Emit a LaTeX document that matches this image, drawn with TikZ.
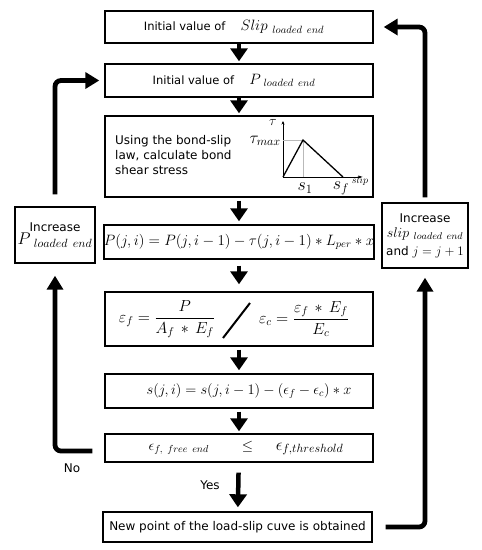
\RequirePackage{fix-cm}
\documentclass[tikz,border=0pt]{standalone}
\usepackage{amsmath}
\usepackage{fontspec}
\setmainfont{DejaVu Sans}
\usetikzlibrary{arrows.meta,positioning}
\newcommand{\fsz}[1]{\fontsize{#1}{#1}\selectfont}

\begin{document}
\begin{tikzpicture}[x=1pt,y=-1pt,
  box/.style={draw,line width=1.4pt,inner sep=0pt,minimum width=268pt,
              align=center,font=\fsz{12}},
  side/.style={draw,line width=1.4pt,inner sep=0pt,align=center,font=\fsz{12}},
  arr/.style={-{Triangle[width=17pt,length=13pt]},line width=4.5pt,
              shorten <=3pt,shorten >=3pt},
  loop/.style={-{Triangle[width=16pt,length=14pt]},line width=4.8pt,
               rounded corners=6pt},
  axis/.style={-{Stealth[length=3.5pt,width=3pt]},line width=0.8pt}]
\useasboundingbox (0,0) rectangle (482,550);

% main column
\node[box,minimum height=32pt,font=\fsz{11.5}] (init_s) at (239,27)
  {\hspace*{-10pt}Initial value of \quad{\fsz{15}$Slip_{\ loaded\ end}$}};
\node[box,minimum height=33pt,font=\fsz{11.5}] (init_p) at (239,80.5)
  {\hspace*{-10pt}Initial value of \quad{\fsz{15}$P_{\ loaded\ end}$}};
\node[box,minimum height=81pt] (bond) at (239,156.5) {};
\node[align=left,anchor=west,inner sep=0pt,font=\fsz{12}] (bondtxt) at (115,155)
  {Using the bond-slip\\[3pt]law, calculate bond\\[3pt]shear stress};
\node[box,minimum height=34pt,font=\fsz{15}] (force) at (239,242)
  {$P(j,i)=P(j,i-1)-\tau(j,i-1)*L_{per}*x$};
\node[box,minimum height=54pt] (strain) at (239,319) {};
\node[inner sep=0pt,font=\fsz{16}] (epsf) at (167,319)
  {$\varepsilon_f=\dfrac{P}{A_f\,*\,E_f}$};
\node[inner sep=0pt,font=\fsz{16}] (epsc) at (304,319)
  {$\varepsilon_c=\dfrac{\varepsilon_f\,*\,E_f}{E_c}$};
\node[box,minimum height=34pt,font=\fsz{14.5}] (slip) at (239,391)
  {\hspace*{20pt}$s(j,i)=s(j,i-1)-(\epsilon_f-\epsilon_c)*x$};
\node[box,minimum height=28pt,font=\fsz{14.5}] (check) at (239,448)
  {\hspace*{14pt}$\epsilon_{f,\ free\ end}\qquad\leq\quad\;
   \mbox{\fsz{17}$\epsilon_{f,threshold}$}$};
\node[box,minimum width=269pt,minimum height=30pt] (result) at (237.5,527)
  {New point of the load-slip cuve is obtained};

% side boxes
\node[side,minimum width=80pt,minimum height=56pt] (incp) at (55,235)
  {Increase\\[1pt]{\fsz{17}$P_{\ loaded\ end}$}};
\node[side,minimum width=86pt,minimum height=65pt] (incs) at (425,235.5)
  {Increase\\[3pt]{\fsz{14}$slip_{\ loaded\ end}$}\\[6pt]and {\fsz{13}$j=j+1$}};

% bond-slip law sketch
\draw[axis] (283,177) -- (283,121);
\draw[axis] (283,177) -- (362,177);
\draw[gray!55,line width=0.6pt] (283,140) -- (303,140) -- (303,177);
\draw[line width=1.3pt] (283,177) -- (303,140) -- (343,177);
\node[inner sep=0pt,font=\fsz{14}] (tau) at (273,122) {$\tau$};
\node[inner sep=0pt,anchor=east,font=\fsz{17}] (taumax) at (281,141) {$\tau_{max}$};
\node[inner sep=0pt,font=\fsz{18}] (s1) at (305,188) {$s_1$};
\node[inner sep=0pt,font=\fsz{18}] (sf) at (341,188) {$s_f$};
\node[inner sep=0pt,font=\fsz{10}] (slipax) at (360,181) {$slip$};

% strain separator
\draw[line width=2pt] (223,338) -- (250,303);

% flow arrows
\draw[arr,shorten <=0pt,shorten >=2pt] (init_s) -- (init_p);
\draw[arr,shorten <=0pt,shorten >=2pt] (init_p) -- (bond);
\draw[arr] (bond) -- (force);
\draw[arr,shorten <=6pt,shorten >=7pt] (force) -- (strain);
\draw[arr] (strain) -- (slip);
\draw[arr,shorten >=2pt] (slip) -- (check);
\draw[arr,shorten <=10pt,shorten >=4pt] (check) -- (result);
\node[font=\fsz{12}] (yes) at (210,485) {Yes};

% loops back
\draw[loop,shorten <=12pt,shorten >=12pt] ([yshift=-3pt]check.west) -| (incp.south);
\draw[loop,shorten <=12pt,shorten >=5pt] (incp.north) |- (init_p.west);
\node[font=\fsz{12}] (no) at (72,468) {No};
\draw[loop,shorten <=13pt,shorten >=9pt] (result.east) -| (incs.south);
\draw[loop,shorten <=5pt,shorten >=10pt] (incs.north) |- (init_s.east);
\end{tikzpicture}
\end{document}
